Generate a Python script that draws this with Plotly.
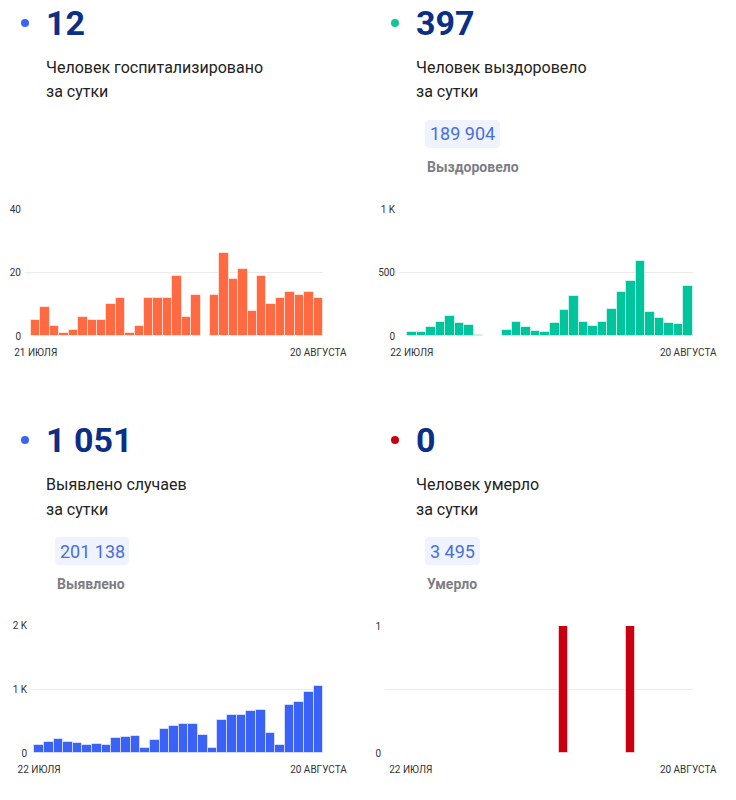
import pandas as pd
import plotly.graph_objects as go

W, H = 736, 800
FONT = "Roboto"
OFF = 8  # page body margin

# ---------------- data ----------------
hosp_dates = pd.date_range("2020-07-21", "2020-08-20", freq="D")
hosp_values = [5, 9, 3, 1, 2, 6, 5, 5, 10, 12, 1, 3, 12, 12, 12, 19, 6, 13, 0,
               13, 26, 18, 21, 8, 19, 10, 12, 14, 13, 14, 12]

rec_dates = pd.date_range("2020-07-22", "2020-08-20", freq="D")
rec_values = [30, 29, 68, 113, 157, 102, 84, 8, 3, 3, 50, 110, 71, 39, 34, 102,
              204, 314, 113, 79, 110, 212, 343, 432, 589, 191, 141, 99, 92, 397]

det_dates = pd.date_range("2020-07-22", "2020-08-20", freq="D")
det_values = [130, 171, 218, 176, 155, 119, 145, 130, 228, 249, 269, 78, 202, 373,
              420, 446, 451, 285, 78, 523, 591, 601, 653, 668, 316, 124, 751, 798,
              959, 1051]

death_dates = pd.date_range("2020-07-22", "2020-08-20", freq="D")
death_values = [0, 0, 0, 0, 0, 0, 0, 0, 0, 0, 0, 0, 0, 0, 0, 0, 1, 0, 0, 0, 0, 0,
                0, 1, 0, 0, 0, 0, 0, 0]

headline_numbers = ["12", "397", "1 051", "0"]
headline_labels = [["Человек госпитализировано", "за сутки"],
                   ["Человек выздоровело", "за сутки"],
                   ["Выявлено случаев", "за сутки"],
                   ["Человек умерло", "за сутки"]]
totals = [None, "189 904", "201 138", "3 495"]
total_labels = [None, "Выздоровело", "Выявлено", "Умерло"]

y_ticks = [([0, 20, 40], ["0", "20", "40"]),
           ([0, 500, 1000], ["0", "500", "1 K"]),
           ([0, 1000, 2000], ["0", "1 K", "2 K"]),
           ([0, 0.5, 1], ["0", "", "1"])]
y_ranges = [[0, 40], [0, 1000], [0, 2000], [0, 1]]
x_tick_text = [["21 ИЮЛЯ", "20 АВГУСТА"], ["22 ИЮЛЯ", "20 АВГУСТА"],
               ["22 ИЮЛЯ", "20 АВГУСТА"], ["22 ИЮЛЯ", "20 АВГУСТА"]]

bar_colors = ["#ff6a42", "#00c49b", "#3a62f6", "#c8000f"]
dot_colors = ["#3b63f5", "#13c49b", "#3b63f5", "#c8000f"]

# ---------------- layout geometry (pixels) ----------------
# (grid start, bars start, bars end, top px, bottom px)
geom = [(25, 31, 323, 209, 336),
        (399, 407, 693, 209, 336),
        (31, 34.3, 323.3, 625, 753),
        (385, 406, 693, 626, 753)]
panel_origin = [(25, 23), (395, 23), (25, 440), (395, 440)]


def X(px):
    return (px - OFF) / W


def Y(py):
    return 1 - (py - OFF) / H


fig = go.Figure()
series = [(hosp_dates, hosp_values), (rec_dates, rec_values),
          (det_dates, det_values), (death_dates, death_values)]

layout_axes = {}
for i, ((dates, vals), (g0, b0, b1, top, bot)) in enumerate(zip(series, geom)):
    n = len(dates)
    day_px = (b1 - b0) / n
    pad_days = (b0 - g0) / day_px
    xname = "x" if i == 0 else f"x{i+1}"
    yname = "y" if i == 0 else f"y{i+1}"
    fig.add_trace(go.Bar(
        x=dates, y=vals, xaxis=xname, yaxis=yname,
        marker=dict(color=bar_colors[i],
                    line=dict(color="rgba(255,255,255,0.55)", width=1)),
        width=[86400000 * (0.94 if i == 3 else 1.0)] * n,
        hoverinfo="x+y", showlegend=False,
    ))
    start = dates[0] - pd.Timedelta(hours=12) - pd.Timedelta(days=pad_days)
    end = dates[-1] + pd.Timedelta(hours=12)
    xkey = "xaxis" if i == 0 else f"xaxis{i+1}"
    ykey = "yaxis" if i == 0 else f"yaxis{i+1}"
    layout_axes[xkey] = dict(
        domain=[X(g0), X(b1)], anchor=yname, type="date",
        range=[start, end], showgrid=False, zeroline=False, showline=False,
        tickvals=[dates[0], dates[-1]], ticktext=x_tick_text[i],
        tickfont=dict(family=FONT, size=10, color="#333"), ticks="",
        ticklabelstandoff=9, fixedrange=True, automargin=False,
    )
    layout_axes[ykey] = dict(
        domain=[Y(bot), Y(top)], anchor=xname, range=y_ranges[i],
        tickvals=y_ticks[i][0], ticktext=y_ticks[i][1],
        showgrid=True, gridcolor="#ebebeb", gridwidth=1, zeroline=False,
        showline=False, ticks="", tickfont=dict(family=FONT, size=10, color="#333"),
        ticklabelstandoff=3, fixedrange=True, automargin=False,
    )

annotations = []
shapes = []


def rounded_rect(x0, y0, x1, y1, r):
    pts = [
        f"M {X(x0 + r)},{Y(y0)}",
        f"L {X(x1 - r)},{Y(y0)}",
        f"Q {X(x1)},{Y(y0)} {X(x1)},{Y(y0 + r)}",
        f"L {X(x1)},{Y(y1 - r)}",
        f"Q {X(x1)},{Y(y1)} {X(x1 - r)},{Y(y1)}",
        f"L {X(x0 + r)},{Y(y1)}",
        f"Q {X(x0)},{Y(y1)} {X(x0)},{Y(y1 - r)}",
        f"L {X(x0)},{Y(y0 + r)}",
        f"Q {X(x0)},{Y(y0)} {X(x0 + r)},{Y(y0)} Z",
    ]
    return " ".join(pts)


pill_widths = [None, 75, 74, 55]
for i in range(4):
    dx, dy = panel_origin[i]
    shapes.append(dict(type="circle", xref="paper", yref="paper",
                       x0=X(dx - 4), x1=X(dx + 4), y0=Y(dy + 4), y1=Y(dy - 4),
                       fillcolor=dot_colors[i], line=dict(width=0)))
    annotations.append(dict(x=X(dx + 19), y=Y(dy), xref="paper", yref="paper",
                            xanchor="left", yanchor="middle", showarrow=False,
                            text=f"<b>{headline_numbers[i]}</b>",
                            font=dict(family=FONT, size=34, color="#0b2f85")))
    for k, line in enumerate(headline_labels[i]):
        annotations.append(dict(x=X(dx + 19), y=Y(dy + 45 + 24 * k), xref="paper",
                                yref="paper", xanchor="left", yanchor="middle",
                                showarrow=False, text=line,
                                font=dict(family=FONT, size=16, color="#222")))
    if totals[i] is not None:
        px0 = dx + 30
        py0 = dy + 97
        shapes.append(dict(type="path", xref="paper", yref="paper",
                           path=rounded_rect(px0, py0, px0 + pill_widths[i], py0 + 28, 4),
                           fillcolor="#eef3fd", line=dict(width=0)))
        annotations.append(dict(x=X(px0 + pill_widths[i] / 2), y=Y(py0 + 14),
                                xref="paper", yref="paper", xanchor="center",
                                yanchor="middle", showarrow=False, text=totals[i],
                                font=dict(family=FONT, size=18, color="#4a6ee0")))
        annotations.append(dict(x=X(px0), y=Y(py0 + 47), xref="paper", yref="paper",
                                xanchor="left", yanchor="middle", showarrow=False,
                                text=f"<b>{total_labels[i]}</b>",
                                font=dict(family=FONT, size=14, color="#7d7d84")))

fig.update_layout(
    width=W, height=H, margin=dict(l=0, r=0, t=0, b=0, autoexpand=False),
    paper_bgcolor="white", plot_bgcolor="white",
    bargap=0, showlegend=False,
    annotations=annotations, shapes=shapes,
    font=dict(family=FONT),
    **layout_axes,
)

fig.write_html("out.html", config={"displayModeBar": False})
